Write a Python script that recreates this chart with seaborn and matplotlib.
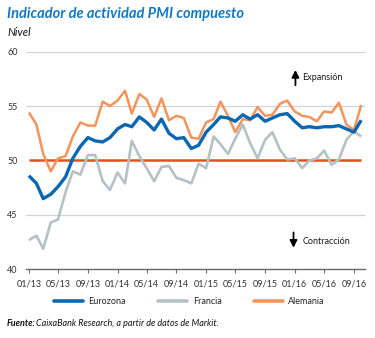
import matplotlib
matplotlib.use("Agg")
import matplotlib.pyplot as plt
import numpy as np
import pandas as pd
import seaborn as sns

# Índice PMI compuesto mensual, enero 2013 - octubre 2016
meses = pd.date_range("2013-01-01", "2016-10-01", freq="MS")

eurozona = [48.6, 47.9, 46.5, 46.9, 47.6, 48.5, 50.2, 51.3, 52.1, 51.8, 51.7, 52.1,
            52.9, 53.3, 53.1, 54.0, 53.5, 52.8, 53.8, 52.5, 52.0, 52.1, 51.1, 51.4,
            52.6, 53.3, 54.0, 53.9, 53.6, 54.2, 53.8, 54.2, 53.6, 53.9, 54.2, 54.3,
            53.6, 53.0, 53.1, 53.0, 53.1, 53.1, 53.2, 52.9, 52.6, 53.7]

francia = [42.7, 43.1, 41.9, 44.3, 44.6, 47.1, 49.0, 48.7, 50.5, 50.5, 48.1, 47.3,
           48.9, 47.9, 51.8, 50.4, 49.3, 48.1, 49.4, 49.5, 48.4, 48.2, 47.9, 49.7,
           49.3, 52.2, 51.5, 50.6, 52.0, 53.3, 51.6, 50.2, 51.9, 52.6, 51.0, 50.1,
           50.2, 49.3, 50.0, 50.2, 50.9, 49.6, 50.1, 51.9, 52.7, 52.2]

alemania = [54.4, 53.3, 50.6, 49.0, 50.2, 50.4, 52.2, 53.5, 53.2, 53.2, 55.4, 55.0,
            55.5, 56.4, 54.3, 56.1, 55.6, 54.0, 55.7, 53.7, 54.1, 53.9, 52.1, 52.0,
            53.5, 53.8, 55.4, 54.1, 52.6, 53.8, 53.7, 54.9, 54.1, 54.2, 55.2, 55.5,
            54.5, 54.1, 54.0, 53.6, 54.5, 54.4, 55.3, 53.3, 52.8, 55.1]

series = ["Eurozona", "Francia", "Alemania"]
colores = {"Eurozona": "#0b67b0", "Francia": "#b6c1c5", "Alemania": "#f3945d"}
grosores = {"Eurozona": 2.4, "Francia": 1.9, "Alemania": 1.8}
capas = {"Eurozona": 5, "Francia": 3, "Alemania": 4}

etiquetas_x = ["01/13", "05/13", "09/13", "01/14", "05/14", "09/14",
               "01/15", "05/15", "09/15", "01/16", "05/16", "09/16"]
valores_y = [40, 45, 50, 55, 60]
umbral = 50

df = pd.DataFrame({"fecha": meses, "Eurozona": eurozona,
                   "Francia": francia, "Alemania": alemania})
largo = df.melt(id_vars="fecha", var_name="serie", value_name="pmi")

sns.set_theme(style="white")
plt.rcParams["font.family"] = ["Lato", "DejaVu Sans"]

fig = plt.figure(figsize=(3.75, 3.38), dpi=100)
ax = fig.add_axes([0.0693, 0.2027, 0.9037, 0.6449])

# Rejilla horizontal
for v in valores_y[1:]:
    if v != umbral:
        ax.axhline(v, color="#d3d3d3", lw=0.9, zorder=1)

# Línea de 50 (frontera expansión/contracción)
ax.plot([meses[0], meses[-1]], [umbral, umbral], color="#e2511d", lw=1.8, zorder=2,
        solid_capstyle="butt")

sns.lineplot(data=largo, x="fecha", y="pmi", hue="serie", hue_order=series,
             palette=colores, ax=ax, legend=False)
for linea, nombre in zip(ax.lines[-3:], series):
    linea.set_linewidth(grosores[nombre])
    linea.set_zorder(capas[nombre])
    linea.set_solid_joinstyle("round")
    linea.set_solid_capstyle("butt")

ax.set_ylim(40, 60)
ax.set_xlim(meses[0] - pd.Timedelta(days=12), meses[-1] + pd.Timedelta(days=15))
ax.set_yticks(valores_y)
ax.set_yticklabels([str(v) for v in valores_y])
ax.set_xticks(meses[::4])
ax.set_xticklabels(etiquetas_x)
ax.set_xlabel("")
ax.set_ylabel("")

for lado in ["top", "right", "left"]:
    ax.spines[lado].set_visible(False)
ax.spines["bottom"].set_color("#6a6a6a")
ax.spines["bottom"].set_linewidth(1.0)
ax.tick_params(axis="x", direction="out", length=3, width=0.8, color="#6a6a6a",
               labelsize=6.5, labelcolor="#333333", pad=4, bottom=True)
ax.tick_params(axis="y", length=0, labelsize=6.5, labelcolor="#333333", pad=6)

# Rótulos de expansión / contracción
ax.annotate("", xy=(meses[36] + pd.Timedelta(days=3), 58.3),
            xytext=(meses[36] + pd.Timedelta(days=3), 56.9),
            arrowprops=dict(arrowstyle="-|>,head_length=0.35,head_width=0.18",
                            lw=1.3, color="black", shrinkA=0, shrinkB=0))
ax.text(meses[37], 57.6, "Expansión", fontsize=6.5, color="#1a1a1a",
        va="center", ha="left")
ax.annotate("", xy=(meses[36] - pd.Timedelta(days=5), 42.0),
            xytext=(meses[36] - pd.Timedelta(days=5), 43.4),
            arrowprops=dict(arrowstyle="-|>,head_length=0.35,head_width=0.18",
                            lw=1.3, color="black", shrinkA=0, shrinkB=0))
ax.text(meses[37], 42.6, "Contracción", fontsize=6.5, color="#1a1a1a",
        va="center", ha="left")

# Títulos
fig.text(7 / 375, 1 - 14 / 338, "Indicador de actividad PMI compuesto",
         fontsize=10.5, fontweight="bold", fontstyle="italic", color="#1479c0",
         va="center", ha="left")
fig.text(7 / 375, 1 - 33 / 338, "Nivel", fontsize=8, fontstyle="italic",
         color="#111111", va="center", ha="left")

# Leyenda
manejadores = [plt.Line2D([], [], color=colores[s], lw=2.6) for s in series]
fig.legend(manejadores, series, loc="center", bbox_to_anchor=(0.505, 1 - 302 / 338),
           ncol=3, frameon=False, fontsize=6.5, handlelength=3.2,
           columnspacing=3.6, handletextpad=0.6)

# Fuente
t1 = fig.text(7 / 375, 1 - 323 / 338, "Fuente:", fontsize=6.5, fontweight="bold",
              fontstyle="italic", color="#111111", va="center", ha="left")
fig.canvas.draw()
bb = t1.get_window_extent(renderer=fig.canvas.get_renderer())
x_fin = bb.x1 / fig.bbox.width
fig.text(x_fin, 1 - 323 / 338,
         "CaixaBank Research, a partir de datos de Markit.", fontsize=6.5,
         fontstyle="italic", color="#111111", va="center", ha="left")

fig.savefig("out.png", dpi=100)
